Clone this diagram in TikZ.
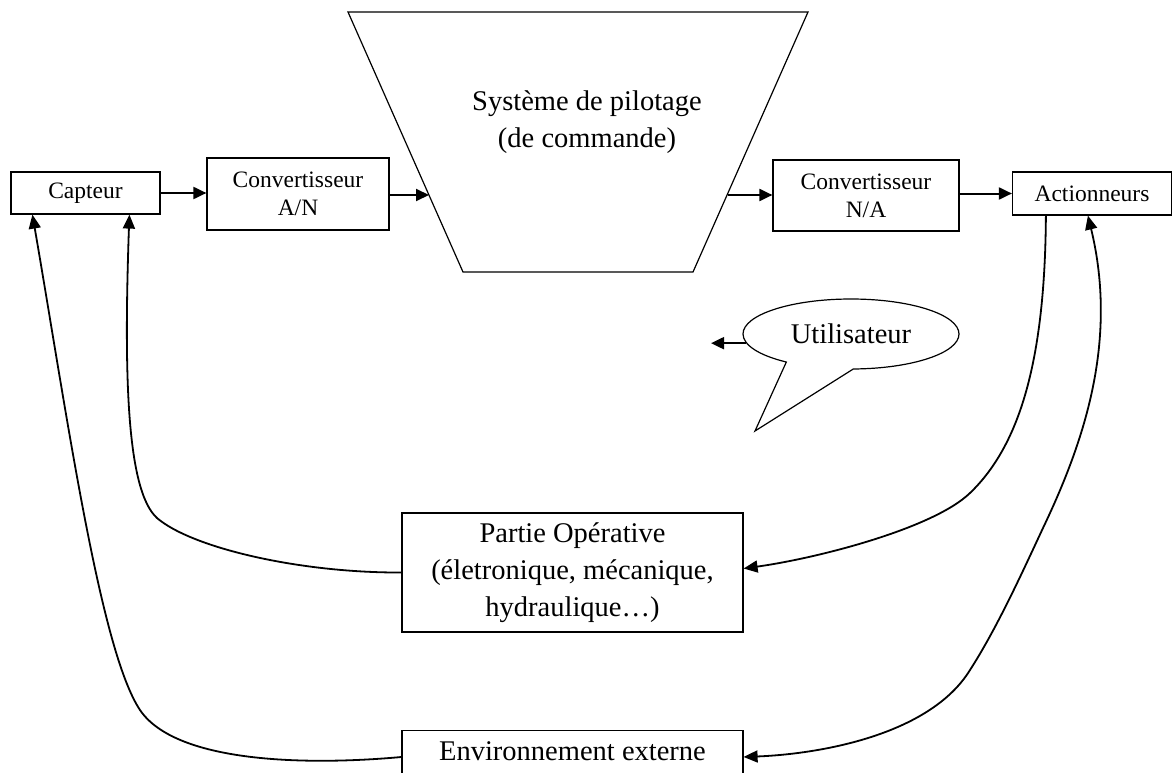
\documentclass[tikz,border=0pt]{standalone}
\usepackage{fontspec}
\setmainfont{Liberation Serif}
\usetikzlibrary{arrows.meta,shapes.callouts,calc}
\begin{document}
\begin{tikzpicture}[x=1pt,y=-1pt,
  box/.style={draw,line width=1.2pt,inner sep=0pt,fill=white},
  smallfont/.style={font=\fontsize{23.5}{28}\selectfont},
  bigfont/.style={font=\fontsize{28.5}{37}\selectfont},
  arr/.style={line width=2pt,-{Triangle[length=13pt,width=12pt]}},
  curve/.style={line width=1.8pt,-{Triangle[length=14pt,width=12pt]}},
  bicurve/.style={line width=1.8pt,{Triangle[length=14pt,width=12pt]}-{Triangle[length=14pt,width=12pt]}},
]
\useasboundingbox (0,0) rectangle (1173,773);
\clip (0,0) rectangle (1173,773);

% control system (trapezoid)
\coordinate (tl) at (348,12);
\coordinate (tr) at (808,12);
\coordinate (br) at (693,272);
\coordinate (bl) at (463,272);
\draw[line width=1.2pt] (tl) -- (tr) -- (br) -- (bl) -- cycle;
\node[bigfont,align=center] (pilot) at (587,122) {Système de pilotage\\(de commande)};
\coordinate (tin) at (429,195);
\coordinate (tout) at (728,195);

% boxes
\node[box,smallfont,minimum width=149,minimum height=42] (capteur) at (85.5,193) {Capteur};
\node[box,smallfont,align=center,minimum width=182,minimum height=72] (cna) at (298,194) {Convertisseur\\A/N};
\node[box,smallfont,align=center,minimum width=186,minimum height=71] (cnb) at (866,195.5) {Convertisseur\\N/A};
\node[box,smallfont,minimum width=159,minimum height=43] (act) at (1092,193.5) {Actionneurs};
\node[box,bigfont,align=center,minimum width=341,minimum height=119] (partie) at (572.5,572.5) {Partie Opérative\\(életronique, mécanique,\\hydraulique…)};
\node[box,bigfont,minimum width=341,text height=19pt,text depth=26pt,inner ysep=11pt,anchor=north] (env) at (572.5,730) {Environnement externe};

% user callout
\node[ellipse callout,draw,line width=1.2pt,fill=white,minimum width=216,minimum height=70,inner sep=0pt,
      callout absolute pointer={(755,431)},callout pointer arc=38,
      font=\fontsize{28.5}{34}\selectfont] (user) at (851,334) {Utilisateur};
\coordinate (ufree) at (711,343);

% straight arrows
\draw[arr] (capteur.east) -- (capteur.east -| cna.west);
\draw[arr] (cna.east |- tin) -- (tin);
\draw[arr] (tout) -- (tout -| cnb.west);
\draw[arr] (cnb.east |- act.west) -- (act.west);
\draw[arr] (user.185) -- (user.185 -| ufree);

% feedback curves
\draw[curve] ($(env.north west)+(0,27)$) .. controls (302,766) and (175,762) .. (140,710)
   .. controls (100,650) and (67,415) .. ($(capteur.south west)+(22,0)$);
\draw[curve] (partie.west) .. controls (300,573) and (192,548) .. (157,518)
   .. controls (126,490) and (124,370) .. ($(capteur.south west)+(119,0)$);
\draw[curve] ($(act.south west)+(34,0)$) .. controls (1045,360) and (1020,445) .. (970,493)
   .. controls (934,528) and (819,558) .. ($(partie.east)+(0,-4)$);
\draw[bicurve] ($(act.south west)+(76,0)$) .. controls (1118,340) and (1085,440) .. (1043,528)
   .. controls (1022,573) and (997,628) .. (970,670)
   .. controls (930,735) and (820,754) .. ($(env.north east)+(0,27)$);
\end{tikzpicture}
\end{document}
